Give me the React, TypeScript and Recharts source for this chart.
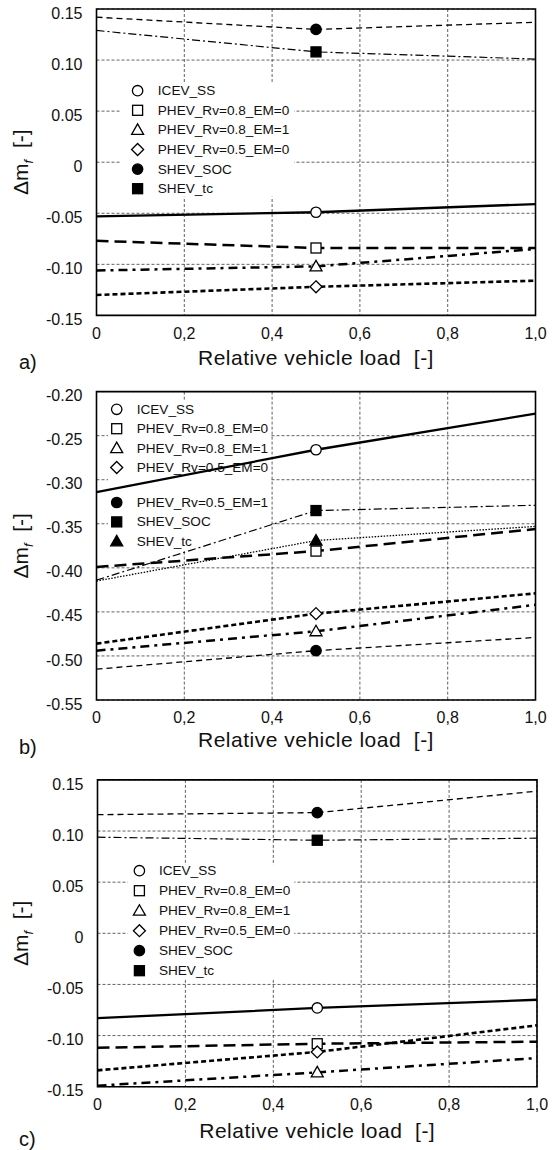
import React from "react";
import { CartesianGrid, Label, Line, LineChart, ReferenceArea, XAxis, YAxis } from "recharts";

const FONT = "'Liberation Sans', Arial, Helvetica, sans-serif";

const loads = [0, 0.5, 1.0];
const loadTicks = [0, 0.2, 0.4, 0.6, 0.8, 1.0];
const ticksAC = [-0.15, -0.1, -0.05, 0, 0.05, 0.1, 0.15];
const ticksB = [-0.55, -0.5, -0.45, -0.4, -0.35, -0.3, -0.25, -0.2];

// a)
const aIcevSs = [-0.053, -0.049, -0.041];
const aPhev08Em0 = [-0.077, -0.084, -0.084];
const aPhev08Em1 = [-0.106, -0.102, -0.085];
const aPhev05Em0 = [-0.13, -0.122, -0.116];
const aShevSoc = [0.142, 0.13, 0.137];
const aShevTc = [0.129, 0.108, 0.101];

// b)
const bIcevSs = [-0.314, -0.266, -0.225];
const bPhev08Em0 = [-0.399, -0.381, -0.356];
const bPhev08Em1 = [-0.494, -0.472, -0.442];
const bPhev05Em0 = [-0.486, -0.452, -0.429];
const bPhev05Em1 = [-0.515, -0.494, -0.479];
const bShevSoc = [-0.414, -0.335, -0.329];
const bShevTc = [-0.415, -0.369, -0.353];

// c)
const cIcevSs = [-0.083, -0.073, -0.065];
const cPhev08Em0 = [-0.112, -0.108, -0.106];
const cPhev08Em1 = [-0.149, -0.136, -0.122];
const cPhev05Em0 = [-0.134, -0.116, -0.09];
const cShevSoc = [0.116, 0.118, 0.139];
const cShevTc = [0.094, 0.091, 0.093];

const STROKES = {
  solid: { width: 2.3, dash: undefined as string | undefined },
  longDash: { width: 2.5, dash: "12 6" },
  dashDot: { width: 2.5, dash: "9 5 3 5" },
  shortDash: { width: 2.6, dash: "5 3" },
  thinDash: { width: 1.3, dash: "6 4" },
  thinDashDot: { width: 1.2, dash: "8 3 2 3" },
  dotted: { width: 1.3, dash: "1.5 1.5" },
};

type MarkerKind = "oCircle" | "oSquare" | "oTriangle" | "oDiamond" | "fCircle" | "fSquare" | "fTriangle";

interface Series {
  name: string;
  values: number[];
  stroke: keyof typeof STROKES;
  marker: MarkerKind;
}

const seriesA: Series[] = [
  { name: "ICEV_SS", values: aIcevSs, stroke: "solid", marker: "oCircle" },
  { name: "PHEV_Rv=0.8_EM=0", values: aPhev08Em0, stroke: "longDash", marker: "oSquare" },
  { name: "PHEV_Rv=0.8_EM=1", values: aPhev08Em1, stroke: "dashDot", marker: "oTriangle" },
  { name: "PHEV_Rv=0.5_EM=0", values: aPhev05Em0, stroke: "shortDash", marker: "oDiamond" },
  { name: "SHEV_SOC", values: aShevSoc, stroke: "thinDash", marker: "fCircle" },
  { name: "SHEV_tc", values: aShevTc, stroke: "thinDashDot", marker: "fSquare" },
];

const seriesB: Series[] = [
  { name: "ICEV_SS", values: bIcevSs, stroke: "solid", marker: "oCircle" },
  { name: "PHEV_Rv=0.8_EM=0", values: bPhev08Em0, stroke: "longDash", marker: "oSquare" },
  { name: "PHEV_Rv=0.8_EM=1", values: bPhev08Em1, stroke: "dashDot", marker: "oTriangle" },
  { name: "PHEV_Rv=0.5_EM=0", values: bPhev05Em0, stroke: "shortDash", marker: "oDiamond" },
  { name: "PHEV_Rv=0.5_EM=1", values: bPhev05Em1, stroke: "thinDash", marker: "fCircle" },
  { name: "SHEV_SOC", values: bShevSoc, stroke: "thinDashDot", marker: "fSquare" },
  { name: "SHEV_tc", values: bShevTc, stroke: "dotted", marker: "fTriangle" },
];

const seriesC: Series[] = [
  { name: "ICEV_SS", values: cIcevSs, stroke: "solid", marker: "oCircle" },
  { name: "PHEV_Rv=0.8_EM=0", values: cPhev08Em0, stroke: "longDash", marker: "oSquare" },
  { name: "PHEV_Rv=0.8_EM=1", values: cPhev08Em1, stroke: "dashDot", marker: "oTriangle" },
  { name: "PHEV_Rv=0.5_EM=0", values: cPhev05Em0, stroke: "shortDash", marker: "oDiamond" },
  { name: "SHEV_SOC", values: cShevSoc, stroke: "thinDash", marker: "fCircle" },
  { name: "SHEV_tc", values: cShevTc, stroke: "thinDashDot", marker: "fSquare" },
];

function Marker({ kind, cx, cy }: { kind: MarkerKind; cx: number; cy: number }) {
  const fill = kind.startsWith("f") ? "#000" : "#fff";
  const common = { fill, stroke: "#000", strokeWidth: 1.3 };
  switch (kind) {
    case "oCircle":
    case "fCircle":
      return <circle cx={cx} cy={cy} r={5.2} {...common} />;
    case "oSquare":
    case "fSquare":
      return <rect x={cx - 5} y={cy - 5} width={10} height={10} {...common} />;
    case "oTriangle":
    case "fTriangle":
      return <polygon points={`${cx},${cy - 6} ${cx + 6},${cy + 4.5} ${cx - 6},${cy + 4.5}`} {...common} />;
    default:
      return <polygon points={`${cx},${cy - 6} ${cx + 6},${cy} ${cx},${cy + 6} ${cx - 6},${cy}`} {...common} />;
  }
}

interface LegendLayout {
  x: number;
  y: number;
  w: number;
  h: number;
  symX: number;
  textX: number;
  row0: number;
  gap: number;
  breakAfter?: number;
  extra?: number;
}

function LegendBox({ layout, items }: { layout: LegendLayout; items: Series[] }) {
  const rowY = (i: number) =>
    layout.row0 + i * layout.gap + (layout.breakAfter !== undefined && i > layout.breakAfter ? layout.extra ?? 0 : 0);
  return (
    <g>
      <rect x={layout.x} y={layout.y} width={layout.w} height={layout.h} fill="#fff" />
      {items.map((s, i) => (
        <g key={s.name}>
          <Marker kind={s.marker} cx={layout.symX} cy={rowY(i)} />
          <text x={layout.textX} y={rowY(i)} dominantBaseline="central" fontFamily={FONT} fontSize={13.6} fill="#111">
            {s.name}
          </text>
        </g>
      ))}
    </g>
  );
}

const fmtX = (v: number) => (v === 0 ? "0" : v.toFixed(1).replace(".", ","));
const fmtY = (v: number) => (Math.abs(v) < 1e-9 ? "0" : v.toFixed(2));

function XTick(props: any) {
  return (
    <text x={props.x} y={props.y} dy="0.71em" textAnchor="middle" fontFamily={FONT} fontSize={16} fill="#111">
      {fmtX(props.payload.value)}
    </text>
  );
}

function YTick(props: any) {
  return (
    <text x={props.x} y={props.y + 4} dy="0.35em" textAnchor="end" fontFamily={FONT} fontSize={16} fill="#111">
      {fmtY(props.payload.value)}
    </text>
  );
}

interface PanelProps {
  top: number;
  height: number;
  marginTop: number;
  marginRight: number;
  marginBottom: number;
  yWidth: number;
  series: Series[];
  yTicks: number[];
  legend: LegendLayout;
  letter: string;
  titleDy: number;
  letterDy: number;
}

function Panel(p: PanelProps) {
  const rows = loads.map((load, i) => {
    const row: Record<string, number> = { load };
    p.series.forEach((s, k) => {
      row[`s${k}`] = s.values[i];
    });
    return row;
  });
  const yMin = p.yTicks[0];
  const yMax = p.yTicks[p.yTicks.length - 1];

  return (
    <div style={{ position: "absolute", left: 0, top: p.top }}>
      <LineChart
        width={555}
        height={p.height}
        data={rows}
        margin={{ top: p.marginTop, right: p.marginRight, bottom: p.marginBottom, left: 0 }}
      >
        <CartesianGrid stroke="#3a3a3a" strokeWidth={0.8} strokeDasharray="3 2" />
        <XAxis
          dataKey="load"
          type="number"
          domain={[0, 1]}
          ticks={loadTicks}
          interval={0}
          height={60}
          axisLine={false}
          tickLine={false}
          tickSize={0}
          tickMargin={12}
          tick={XTick}
        >
          <Label
            content={(lp: any) => {
              const vb = lp.viewBox;
              return (
                <g>
                  <text
                    x={vb.x + vb.width / 2}
                    y={vb.y + p.titleDy}
                    textAnchor="middle"
                    fontFamily={FONT}
                    fontSize={21}
                    letterSpacing={0.5}
                    fill="#111"
                    style={{ whiteSpace: "pre" }}
                  >
                    {"Relative vehicle load  [-]"}
                  </text>
                  <text x={19} y={vb.y + p.letterDy} fontFamily={FONT} fontSize={20} fill="#111">
                    {p.letter}
                  </text>
                </g>
              );
            }}
          />
        </XAxis>
        <YAxis
          type="number"
          domain={[yMin, yMax]}
          ticks={p.yTicks}
          interval={0}
          width={p.yWidth}
          axisLine={false}
          tickLine={false}
          tickSize={0}
          tickMargin={14}
          tick={YTick}
        >
          <Label
            content={(lp: any) => {
              const vb = lp.viewBox;
              const cx = 28;
              const cy = vb.y + vb.height / 2;
              return (
                <text
                  x={cx}
                  y={cy}
                  transform={`rotate(-90 ${cx} ${cy})`}
                  textAnchor="middle"
                  fontFamily={FONT}
                  fontSize={21}
                  fill="#111"
                  style={{ whiteSpace: "pre" }}
                >
                  {"\u0394m"}
                  <tspan dy={5} fontSize={13} fontStyle="italic">
                    f
                  </tspan>
                  <tspan dy={-5}>{"  [-]"}</tspan>
                </text>
              );
            }}
          />
        </YAxis>
        <LegendBox layout={p.legend} items={p.series} />
        {p.series.map((s, k) => (
          <Line
            key={s.name}
            dataKey={`s${k}`}
            type="linear"
            stroke="#000"
            strokeWidth={STROKES[s.stroke].width}
            strokeDasharray={STROKES[s.stroke].dash}
            isAnimationActive={false}
            activeDot={false}
            dot={(dp: any) =>
              dp.payload.load === 0.5 ? (
                <g key={`m-${k}-${dp.index}`}>
                  <Marker kind={s.marker} cx={dp.cx} cy={dp.cy} />
                </g>
              ) : (
                <g key={`m-${k}-${dp.index}`} />
              )
            }
          />
        ))}
        <ReferenceArea x1={0} x2={1} y1={yMin} y2={yMax} fill="none" fillOpacity={0} stroke="#000" strokeWidth={1.6} />
      </LineChart>
    </div>
  );
}

export default function App() {
  return (
    <div style={{ position: "absolute", left: 0, top: 0, width: 555, height: 1150, background: "#fff" }}>
      <Panel
        top={0}
        height={380}
        marginTop={9}
        marginRight={19.5}
        marginBottom={4.6}
        yWidth={96.5}
        series={seriesA}
        yTicks={ticksAC}
        legend={{ x: 120.6, y: 83.3, w: 173.4, h: 113.4, symX: 137.6, textX: 157.8, row0: 90.7, gap: 19.6 }}
        letter="a)"
        titleDy={49.6}
        letterDy={53.6}
      />
      <Panel
        top={380}
        height={385}
        marginTop={11.6}
        marginRight={19.5}
        marginBottom={5}
        yWidth={96.5}
        series={seriesB}
        yTicks={ticksB}
        legend={{ x: 108, y: 20, w: 162, h: 150, symX: 116.7, textX: 136.7, row0: 29.3, gap: 19.4, breakAfter: 3, extra: 15.6 }}
        letter="b)"
        titleDy={46.7}
        letterDy={54}
      />
      <Panel
        top={765}
        height={385}
        marginTop={14.9}
        marginRight={18}
        marginBottom={3.3}
        yWidth={97.5}
        series={seriesC}
        yTicks={ticksAC}
        legend={{ x: 127.7, y: 100, w: 166.6, h: 113.3, symX: 139.4, textX: 158.9, row0: 105.7, gap: 20 }}
        letter="c)"
        titleDy={51.6}
        letterDy={59.3}
      />
    </div>
  );
}
